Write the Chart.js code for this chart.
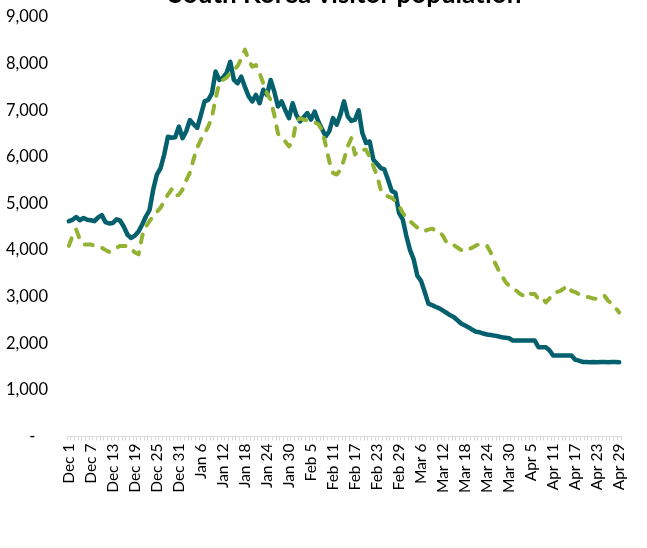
<!DOCTYPE html>
<html>
<head>
<meta charset="utf-8">
<script src="https://cdn.jsdelivr.net/npm/chart.js@4/dist/chart.umd.min.js"></script>
<style>
  html, body { margin: 0; padding: 0; background: #fff; overflow: hidden; }
  #wrap { position: absolute; left: 0; top: 0; width: 647px; height: 548px; }
</style>
</head>
<body>
<div id="wrap"><canvas id="c"></canvas></div>
<script>
// Category months and their day counts (Dec 2019 - Apr 2020)
const months = ["Dec", "Jan", "Feb", "Mar", "Apr"];
const monthDays = [31, 31, 29, 31, 29];

// Series 1 (solid teal)
const seriesSolid = [
  4620, 4650, 4710, 4640, 4690, 4650, 4640, 4620, 4700, 4750,
  4600, 4570, 4580, 4660, 4630, 4500, 4330, 4260, 4310, 4400,
  4550, 4720, 4860, 5300, 5620, 5760, 6050, 6430, 6410, 6420,
  6650, 6400, 6550, 6790, 6700, 6620, 6900, 7190, 7220, 7360,
  7830, 7650, 7700, 7800, 8040, 7650, 7580, 7720, 7500, 7300,
  7190, 7330, 7150, 7440, 7330, 7650, 7400, 7080, 7190, 7000,
  6830, 7150, 6900, 6760, 6850, 6940, 6800, 6970, 6760, 6600,
  6440, 6550, 6830, 6690, 6900, 7190, 6870, 6770, 6800, 7000,
  6510, 6300, 6330, 5940, 5850, 5760, 5730, 5510, 5270, 5230,
  4800, 4660, 4300, 4000, 3800, 3450, 3340, 3100, 2850, 2820,
  2780, 2750, 2700, 2650, 2600, 2560, 2490, 2420, 2380, 2340,
  2290, 2250, 2236, 2210, 2190, 2180, 2165, 2150, 2130, 2120,
  2108, 2060, 2058, 2058, 2058, 2058, 2058, 2058, 1917, 1917,
  1917, 1850, 1737, 1737, 1737, 1737, 1737, 1737, 1650, 1630,
  1600, 1600, 1596, 1598, 1596, 1600, 1598, 1596, 1600, 1598,
  1596
];

// Series 2 (dashed green)
const seriesDashed = [
  4090, 4300, 4440, 4230, 4120, 4120, 4120, 4090, 4070, 4050,
  4000, 3960, 4020, 4050, 4090, 4090, 4090, 4020, 3950, 3910,
  4300, 4500, 4620, 4730, 4820, 4910, 5050, 5190, 5300, 5156,
  5190, 5300, 5500, 5660, 5950, 6200, 6370, 6500, 6650, 6850,
  7250, 7580, 7650, 7700, 7800, 7860, 7950, 8100, 8300, 8077,
  7934, 7970, 7792, 7579, 7365, 7222, 6900, 6500, 6400, 6330,
  6224, 6331, 6760, 6830, 6800, 6780, 6760, 6740, 6700, 6580,
  6260, 5900, 5656, 5620, 5720, 5940, 6224, 6400, 6050, 6150,
  6150, 6150, 6000, 5800, 5600, 5300, 5192, 5150, 5121, 5050,
  4950, 4800, 4700, 4620, 4550, 4480, 4420, 4410, 4440, 4460,
  4420, 4400, 4300, 4160, 4124, 4100, 4050, 4000, 3981, 4020,
  4053, 4100, 4124, 4100, 4088, 3950, 3750, 3590, 3450, 3320,
  3234, 3180, 3127, 3060, 3020, 3092, 3060, 3056, 2950, 2985,
  2878, 2960, 3056, 3100, 3127, 3180, 3234, 3127, 3100, 3056,
  3020, 3000, 2985, 2960, 2949, 2980, 3020, 2913, 2850, 2760,
  2664
];

// Y tick values
const yTicks = [0, 1000, 2000, 3000, 4000, 5000, 6000, 7000, 8000, 9000];
const titleText = 'South Korea visitor population';

const labels = [];
months.forEach((m, mi) => {
  for (let d = 1; d <= monthDays[mi]; d++) labels.push(m + " " + d);
});

const FONT = "Lato, 'Open Sans', 'Liberation Sans', sans-serif";

// Title drawn partly above the top edge, as in the reference
const cutTitle = {
  id: 'cutTitle',
  afterDraw(chart) {
    const ctx = chart.ctx;
    ctx.save();
    ctx.font = "bold 26px " + FONT;
    ctx.fillStyle = '#000';
    ctx.textAlign = 'center';
    ctx.textBaseline = 'alphabetic';
    ctx.fillText(titleText, 345, 3);
    ctx.restore();
  }
};

new Chart(document.getElementById('c'), {
  type: 'line',
  data: {
    labels: labels,
    datasets: [
      {
        label: 'Series 1',
        data: seriesSolid,
        borderColor: '#03606C',
        borderWidth: 4.5,
        pointRadius: 0,
        tension: 0,
        borderJoinStyle: 'round',
        borderCapStyle: 'round',
        fill: false,
        order: 2
      },
      {
        label: 'Series 2',
        data: seriesDashed,
        borderColor: '#93B232',
        borderWidth: 4,
        borderDash: [8, 10],
        borderCapStyle: 'round',
        borderJoinStyle: 'round',
        pointRadius: 0,
        tension: 0,
        fill: false,
        order: 1
      }
    ]
  },
  plugins: [cutTitle],
  options: {
    responsive: true,
    maintainAspectRatio: false,
    animation: false,
    layout: { padding: { left: 4, right: 26, top: 17, bottom: 52 } },
    plugins: {
      legend: { display: false },
      tooltip: { enabled: false },
      title: { display: false }
    },
    scales: {
      x: {
        type: 'category',
        offset: true,
        grid: {
          display: true,
          drawOnChartArea: false,
          drawTicks: true,
          tickLength: 4,
          color: '#d9d9d9',
          offset: true
        },
        border: { display: true, color: '#d9d9d9', width: 1 },
        ticks: {
          autoSkip: false,
          minRotation: 90,
          maxRotation: 90,
          padding: 3,
          color: '#000',
          font: { family: FONT, size: 15.5 },
          callback: function (v, i) { return i % 6 === 0 ? labels[i] : ''; }
        },
        afterFit: function (scale) {
          scale.paddingLeft = 0; scale.paddingRight = 0;
          scale.paddingTop = 0; scale.paddingBottom = 0;
        }
      },
      y: {
        min: 0,
        max: 9000,
        afterBuildTicks: function (axis) { axis.ticks = yTicks.map(v => ({ value: v })); },
        afterFit: function (axis) {
          axis.width = 63;
          axis.paddingTop = 0; axis.paddingBottom = 0;
        },
        grid: { display: false, drawTicks: false },
        border: { display: false },
        ticks: {
          padding: 19,
          color: '#000',
          font: { family: FONT, size: 16.5 },
          callback: function (v) { return v === 0 ? '-   ' : v.toLocaleString('en-US'); }
        }
      }
    }
  }
});
</script>
</body>
</html>
